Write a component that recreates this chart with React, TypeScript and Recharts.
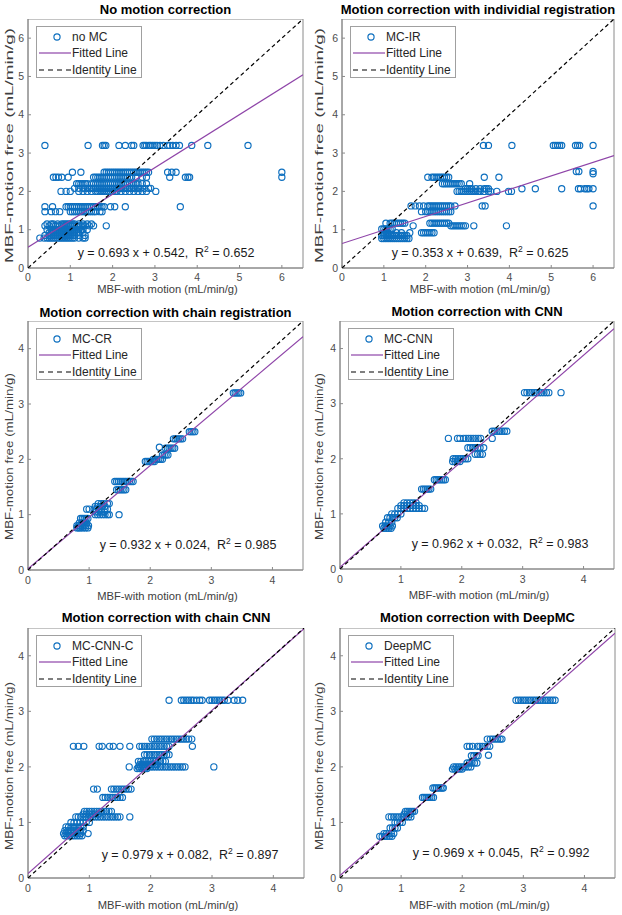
import React from 'react';
import { ScatterChart, Scatter, XAxis, YAxis, ReferenceArea, Label } from 'recharts';

const FONT = '"Liberation Sans", Arial, Helvetica, sans-serif';
const BLUE = '#0d6fbf';
const PURPLE = '#8e44a8';
const AXIS = '#8a8a8a';

// ---------- data ----------
const titles = [
  'No motion correction',
  'Motion correction with individial registration',
  'Motion correction with chain registration',
  'Motion correction with CNN',
  'Motion correction with chain CNN',
  'Motion correction with DeepMC',
];
const seriesNames = ['no MC', 'MC-IR', 'MC-CR', 'MC-CNN', 'MC-CNN-C', 'DeepMC'];
const slopes = [0.693, 0.353, 0.932, 0.962, 0.979, 0.969];
const intercepts = [0.542, 0.639, 0.024, 0.032, 0.082, 0.045];
const rSquared = [0.652, 0.625, 0.985, 0.983, 0.897, 0.992];
const axisMax = [6.5, 6.5, 4.5, 4.5, 4.5, 4.5];
const ticksWide = [0, 1, 2, 3, 4, 5, 6];
const ticksNarrow = [0, 1, 2, 3, 4];
const xAxisTitle = 'MBF-with motion (mL/min/g)';
const yAxisTitle = 'MBF-motion free (mL/min/g)';
const fittedName = 'Fitted Line';
const identityName = 'Identity Line';

type Rows = [number, number[]][];

// rows: [motion-free MBF level, list of with-motion MBF values]
const noMcRows: Rows = [
  [3.2, [0.4, 1.42, 1.76, 1.8, 1.84, 2.15, 2.3, 2.45, 2.5, 2.72, 2.76, 2.8, 2.86, 2.9, 2.95, 3.0, 3.05, 3.12, 3.2, 3.3, 3.35, 3.42, 3.5, 3.58, 3.87, 4.25, 5.2]],
  [2.5, [1.05, 1.25, 1.8, 1.85, 1.9, 1.95, 2.0, 2.05, 2.1, 2.15, 2.2, 2.25, 2.3, 2.35, 2.4, 2.45, 2.5, 2.55, 2.6, 2.65, 2.7, 2.75, 2.8, 2.85, 3.3, 3.4, 3.5, 6.0]],
  [2.37, [0.6, 0.66, 0.72, 0.8, 0.95, 1.55, 1.6, 1.65, 1.7, 1.75, 1.8, 1.85, 1.9, 1.95, 2.0, 2.05, 2.1, 2.15, 2.2, 2.25, 2.3, 2.35, 2.4, 2.45, 2.55, 2.7, 2.8, 3.35, 3.72, 3.78, 3.82, 6.0]],
  [2.2, [1.15, 1.2, 1.25, 1.3, 1.35, 1.4, 1.5, 1.55, 1.6, 1.65, 1.7, 1.75, 1.8, 1.85, 1.9, 1.95, 2.0, 2.05, 2.1, 2.15, 2.2, 2.25, 2.3, 2.35, 2.4, 2.45, 2.5, 2.55, 2.6, 2.7, 2.8]],
  [2.08, [1.1, 1.2, 1.3, 1.35, 1.4, 1.45, 1.5, 1.55, 1.6, 1.65, 1.7, 1.75, 1.8, 1.85, 1.9, 1.95, 2.0, 2.05, 2.1, 2.15, 2.2, 2.25, 2.3, 2.35, 2.4, 2.45, 2.5, 2.55, 2.6, 2.65, 2.75, 2.85, 2.9]],
  [2.0, [0.78, 0.9, 1.0, 1.2, 1.3, 1.4, 1.5, 1.6, 1.65, 1.7, 1.75, 1.8, 1.85, 1.9, 1.95, 2.0, 2.05, 2.1, 2.2, 2.3, 2.4, 2.5, 2.6, 2.7, 2.8, 3.02]],
  [1.6, [0.4, 0.58, 0.9, 0.95, 1.0, 1.05, 1.1, 1.15, 1.2, 1.25, 1.3, 1.35, 1.4, 1.45, 1.5, 1.55, 1.6, 1.65, 1.7, 1.75, 1.8, 1.95, 2.05, 2.3, 3.6]],
  [1.47, [0.4, 0.55, 0.65, 0.75, 1.0, 1.05, 1.1, 1.15, 1.2, 1.25, 1.3, 1.35, 1.4, 1.45, 1.5, 1.55, 1.6, 1.7, 1.75]],
  [1.15, [0.45, 0.55, 0.6, 0.7, 0.8, 0.85, 0.9, 0.95, 1.0, 1.05, 1.1, 1.2, 1.3, 1.4, 1.5]],
  [1.1, [0.4, 0.5, 0.6, 0.65, 0.7, 0.75, 0.8, 0.85, 0.9, 0.95, 1.0, 1.05, 1.1, 1.15, 1.2, 1.25, 1.3, 1.35, 1.45, 1.55, 1.85]],
  [1.0, [0.45, 0.55, 0.6, 0.65, 0.7, 0.75, 0.8, 0.85, 0.9, 0.95, 1.0, 1.05, 1.1, 1.15, 1.2, 1.25, 1.3, 1.4]],
  [0.92, [0.5, 0.55, 0.6, 0.65, 0.7, 0.75, 0.8, 0.85, 0.9, 0.95, 1.0, 1.05, 1.1, 1.15, 1.2, 1.3]],
  [0.85, [0.4, 0.5, 0.55, 0.6, 0.65, 0.7, 0.75, 0.8, 0.85, 0.9, 0.95, 1.0, 1.05, 1.1, 1.2, 1.35]],
  [0.78, [0.28, 0.38, 0.45, 0.5, 0.55, 0.6, 0.65, 0.7, 0.75, 0.8, 0.85, 0.9, 0.95, 1.0, 1.05, 1.1, 1.2, 1.3, 1.35]],
];

const mcIrRows: Rows = [
  [3.2, [3.38, 3.5, 4.06, 5.05, 5.1, 5.15, 5.2, 5.25, 5.58, 5.63, 5.68, 6.0]],
  [2.52, [5.6, 5.66, 6.0]],
  [2.46, [6.0]],
  [2.37, [2.05, 2.15, 2.2, 2.25, 2.3, 2.35, 2.4, 2.45, 2.5, 2.55, 3.4, 3.75]],
  [2.2, [2.4, 2.45, 2.5, 2.55, 2.6, 2.65, 2.7, 2.75, 2.8, 2.85, 3.05]],
  [2.07, [2.95, 3.0, 3.05, 3.1, 3.2, 3.3, 3.4, 3.45, 3.5, 4.3, 4.62, 5.25, 5.65, 5.7, 5.8, 5.85, 5.9, 6.0]],
  [2.0, [2.75, 2.8, 2.85, 2.9, 2.95, 3.0, 3.05, 3.1, 3.15, 3.2, 3.25, 3.3, 3.4, 3.5, 3.55, 3.7, 3.98, 4.05]],
  [1.62, [1.65, 1.75, 1.85, 1.95, 2.05, 2.1, 2.15, 2.2, 2.25, 2.3, 2.35, 2.4, 2.45, 2.5, 2.55, 2.6, 2.7, 3.35, 3.42, 6.0]],
  [1.47, [1.9, 2.0, 2.05, 2.1, 2.15, 2.2, 2.25, 2.3, 2.35, 2.4, 2.45, 2.5, 2.55, 2.6]],
  [1.17, [1.05, 1.15, 1.2, 1.25, 1.3, 1.35, 1.4, 1.45, 1.5, 2.1, 2.15, 2.2, 2.25, 2.3, 2.35, 2.4, 2.45, 2.5, 2.55]],
  [1.1, [1.7, 2.6, 2.65, 2.7, 2.75, 2.8, 2.85, 2.9, 2.95, 3.15, 3.93]],
  [1.02, [0.95, 1.0, 1.05, 1.1, 1.15, 1.2]],
  [0.92, [1.0, 1.05, 1.1, 1.3, 1.42, 1.62, 1.9, 1.95, 2.0, 2.05, 2.1, 2.15, 2.2]],
  [0.85, [0.95, 1.0, 1.05, 1.1, 1.15, 1.2, 1.25, 1.3, 1.35, 1.4, 1.45, 1.5, 1.55]],
  [0.77, [0.95, 1.0, 1.05, 1.1, 1.15, 1.2, 1.25, 1.3, 1.35, 1.4, 1.45, 1.5, 1.55, 1.6]],
];

const mcCrRows: Rows = [
  [3.2, [3.36, 3.39, 3.42, 3.45, 3.48]],
  [2.5, [2.64, 2.67, 2.7, 2.73]],
  [2.37, [2.38, 2.41, 2.44, 2.47, 2.5, 2.53]],
  [2.22, [2.15]],
  [2.2, [2.25, 2.28, 2.31, 2.34, 2.37, 2.4]],
  [2.08, [2.2, 2.23, 2.26, 2.29]],
  [2.0, [2.05, 2.08, 2.11, 2.14, 2.17, 2.2]],
  [1.96, [1.92, 1.95, 1.98, 2.01, 2.04, 2.07]],
  [1.6, [1.42, 1.45, 1.48, 1.51, 1.54, 1.57, 1.6, 1.63, 1.66, 1.69, 1.72]],
  [1.45, [1.45, 1.48, 1.51, 1.54, 1.57, 1.6]],
  [1.2, [1.15, 1.2, 1.24, 1.3, 1.33]],
  [1.15, [1.1, 1.14, 1.18, 1.22, 1.26]],
  [1.1, [0.96, 1.0, 1.08, 1.12, 1.16, 1.2, 1.26, 1.3]],
  [1.05, [1.1, 1.15, 1.2, 1.25]],
  [1.0, [1.1, 1.14, 1.18, 1.22, 1.26, 1.3, 1.33, 1.49]],
  [0.93, [0.86, 0.89, 0.92, 0.95, 0.98]],
  [0.85, [0.84, 0.88, 0.92, 0.96]],
  [0.8, [0.8, 0.83, 0.86, 0.89, 0.92, 0.95, 0.99]],
  [0.76, [0.8, 0.83, 0.86, 0.9, 0.94, 0.98]],
];

const mcCnnRows: Rows = [
  [3.2, [3.03, 3.07, 3.11, 3.15, 3.19, 3.23, 3.27, 3.31, 3.35, 3.39, 3.43, 3.63]],
  [2.5, [2.5, 2.54, 2.58, 2.62, 2.66, 2.7, 2.74]],
  [2.37, [1.78, 1.93, 1.97, 2.03, 2.07, 2.11, 2.15, 2.19, 2.23, 2.27, 2.31, 2.5]],
  [2.2, [2.1, 2.14, 2.18, 2.22, 2.26, 2.3, 2.36]],
  [2.08, [2.22, 2.26, 2.3, 2.34]],
  [2.0, [1.86, 1.9, 1.94, 1.98, 2.02, 2.06, 2.1]],
  [1.95, [1.85, 1.89, 1.93, 1.97]],
  [1.62, [1.55, 1.58, 1.61, 1.64, 1.67, 1.7, 1.73]],
  [1.45, [1.34, 1.37, 1.4, 1.43, 1.46, 1.49]],
  [1.2, [1.05, 1.1, 1.15, 1.2, 1.25]],
  [1.15, [1.0, 1.05, 1.1, 1.15, 1.2, 1.25, 1.3]],
  [1.1, [0.95, 1.0, 1.05, 1.1, 1.15, 1.2, 1.25, 1.3, 1.35, 1.39]],
  [1.0, [0.85, 0.9, 0.95, 1.0]],
  [0.93, [0.78, 0.82, 0.86, 0.9, 0.94]],
  [0.85, [0.75, 0.8, 0.85]],
  [0.78, [0.7, 0.74, 0.78, 0.82, 0.86]],
  [0.74, [0.72, 0.76, 0.8, 0.84]],
];

const mcCnnCRows: Rows = [
  [3.2, [2.3, 2.5, 2.54, 2.58, 2.62, 2.66, 2.7, 2.75, 2.8, 2.84, 2.96, 3.0, 3.04, 3.08, 3.12, 3.16, 3.2, 3.26, 3.36, 3.42, 3.5]],
  [2.5, [2.02, 2.06, 2.1, 2.14, 2.18, 2.22, 2.26, 2.3, 2.34, 2.38, 2.42, 2.46, 2.5, 2.54, 2.58, 2.62, 2.67]],
  [2.37, [0.74, 0.82, 0.91, 1.16, 1.21, 1.33, 1.39, 1.5, 1.66, 1.82, 1.86, 1.9, 1.94, 1.98, 2.02, 2.06, 2.1, 2.14, 2.18, 2.22, 2.26, 2.3, 2.68]],
  [2.22, [1.9, 1.94, 1.98, 2.02, 2.06, 2.1, 2.14, 2.18, 2.22, 2.26, 2.3]],
  [2.1, [1.8, 1.84, 1.88, 1.92, 1.96, 2.0, 2.04, 2.08, 2.12, 2.16, 2.2, 2.24]],
  [2.04, [1.82, 1.86, 1.9, 1.94, 1.98, 2.02, 2.06, 2.1]],
  [2.0, [1.65, 1.8, 1.84, 1.88, 1.92, 1.96, 2.0, 2.04, 2.08, 2.12, 2.16, 2.2, 2.24, 2.28, 2.32, 2.36, 2.4, 2.44, 2.48, 2.52, 2.56, 3.03]],
  [1.97, [1.78, 1.82, 1.86, 1.9, 1.94]],
  [1.6, [1.07, 1.13, 1.36, 1.4, 1.44, 1.48, 1.52, 1.56, 1.6, 1.64, 1.68]],
  [1.45, [1.22, 1.26, 1.3, 1.34, 1.38, 1.42, 1.46, 1.5, 1.54]],
  [1.2, [0.92, 0.96, 1.0, 1.04, 1.08, 1.12, 1.16, 1.2, 1.24, 1.28, 1.32, 1.36]],
  [1.15, [0.9, 0.95, 1.0, 1.05, 1.1, 1.15]],
  [1.1, [0.78, 0.82, 0.86, 0.9, 0.94, 0.98, 1.02, 1.06, 1.1, 1.14, 1.18, 1.22, 1.26, 1.3, 1.34, 1.38, 1.42, 1.46, 1.5, 1.66]],
  [1.0, [0.7, 0.75, 0.8, 0.85, 0.9, 0.95, 1.0]],
  [0.92, [0.62, 0.66, 0.7, 0.74, 0.78, 0.82, 0.86, 0.9]],
  [0.85, [0.6, 0.65, 0.7, 0.75, 0.8, 0.85, 0.9]],
  [0.8, [0.58, 0.62, 0.66, 0.7, 0.74, 0.78, 0.82, 0.86, 0.98]],
  [0.76, [0.6, 0.64, 0.68, 0.72, 0.76, 0.8, 0.84, 0.88]],
];

const deepMcRows: Rows = [
  [3.2, [2.88, 2.92, 2.96, 3.0, 3.04, 3.08, 3.12, 3.16, 3.2, 3.24, 3.28, 3.32, 3.36, 3.4, 3.44, 3.48, 3.52]],
  [2.5, [2.41, 2.46, 2.5, 2.54, 2.58, 2.62, 2.65]],
  [2.37, [2.08, 2.12, 2.17, 2.25, 2.29, 2.33, 2.37, 2.41, 2.45]],
  [2.21, [2.43]],
  [2.2, [2.15, 2.19, 2.23, 2.26]],
  [2.07, [2.08, 2.12, 2.16, 2.2, 2.24]],
  [2.0, [1.86, 1.9, 1.94, 1.98, 2.02, 2.06, 2.1, 2.14]],
  [1.96, [1.84, 1.88, 1.92, 1.96, 2.0]],
  [1.62, [1.52, 1.55, 1.58, 1.61, 1.64, 1.67, 1.69]],
  [1.45, [1.35, 1.38, 1.41, 1.44, 1.47, 1.5, 1.53]],
  [1.2, [1.07, 1.1, 1.13, 1.16, 1.19, 1.22]],
  [1.15, [1.05, 1.1, 1.15]],
  [1.1, [0.8, 0.84, 0.88, 0.92, 0.96, 1.0, 1.04, 1.08, 1.12, 1.16]],
  [1.0, [0.9, 0.94, 0.98, 1.02]],
  [0.9, [0.82, 0.86, 0.9, 0.94]],
  [0.8, [0.72, 0.76, 0.8, 0.84, 0.88]],
  [0.75, [0.65, 0.69, 0.73, 0.77, 0.81, 0.85]],
];

const panelRows: Rows[] = [noMcRows, mcIrRows, mcCrRows, mcCnnRows, mcCnnCRows, deepMcRows];

// ---------- layout (page pixels) ----------
type Layout = {
  pl: number; pt: number; pr: number; pb: number;
  titleY: number; eqX: number; eqY: number;
  yLabX: number; yLabY: number; yLabLen: number; xLabY: number; tickGap: number;
};
const layouts: Layout[] = [
  { pl: 28, pt: 19, pr: 303, pb: 268, titleY: 10, eqX: 166, eqY: 253, yLabX: 9, yLabY: 145.5, yLabLen: 235, xLabY: 289, tickGap: 9 },
  { pl: 342, pt: 19, pr: 614, pb: 268, titleY: 10, eqX: 480, eqY: 253, yLabX: 319, yLabY: 145.5, yLabLen: 235, xLabY: 289, tickGap: 9 },
  { pl: 28, pt: 321, pr: 303, pb: 570, titleY: 313, eqX: 188, eqY: 545, yLabX: 8.5, yLabY: 456.5, yLabLen: 167, xLabY: 596, tickGap: 10 },
  { pl: 340, pt: 321, pr: 614, pb: 569, titleY: 312, eqX: 500, eqY: 544, yLabX: 319, yLabY: 456.5, yLabLen: 167, xLabY: 595, tickGap: 10 },
  { pl: 28, pt: 628, pr: 304, pb: 878, titleY: 618, eqX: 190, eqY: 855, yLabX: 8.5, yLabY: 766, yLabLen: 168, xLabY: 905, tickGap: 10 },
  { pl: 340, pt: 628, pr: 615, pb: 878, titleY: 618, eqX: 501, eqY: 853, yLabX: 319, yLabY: 766, yLabLen: 168, xLabY: 905, tickGap: 10 },
];

const YW = 28;
const XH = 40;

const Ring = (p: any) => (
  <circle cx={p.cx} cy={p.cy} r={3.1} fill="none" stroke={BLUE} strokeWidth={1.15} />
);
const Nothing = () => <g />;

function LegendBox({ name, left, top }: { name: string; left: number; top: number }) {
  const rowY = [11, 27, 44];
  const labels = [name, fittedName, identityName];
  return (
    <div
      style={{
        position: 'absolute', left, top, width: 106, height: 52, boxSizing: 'border-box',
        border: '1px solid #a0a0a0', background: '#fff', fontFamily: FONT, fontSize: 12, color: '#262626',
      }}
    >
      <svg width={104} height={50} style={{ position: 'absolute', left: 0, top: 0 }}>
        <circle cx={20} cy={rowY[0] - 1} r={3.1} fill="none" stroke={BLUE} strokeWidth={1.15} />
        <line x1={2} x2={34} y1={rowY[1] - 1} y2={rowY[1] - 1} stroke={PURPLE} strokeWidth={1.2} />
        <line x1={2} x2={34} y1={rowY[2] - 1} y2={rowY[2] - 1} stroke="#000" strokeWidth={1.2} strokeDasharray="5 4" />
      </svg>
      {labels.map((t, i) => (
        <span
          key={i}
          style={{ position: 'absolute', left: 35, top: rowY[i] - 1, transform: 'translateY(-50%)', whiteSpace: 'nowrap', lineHeight: '14px' }}
        >
          {t}
        </span>
      ))}
    </div>
  );
}

function Panel({ i }: { i: number }) {
  const L = layouts[i];
  const max = axisMax[i];
  const ticks = max > 5 ? ticksWide : ticksNarrow;
  const points = panelRows[i].flatMap(([y, xs]) => xs.map((x) => ({ x, y })));
  const fit = [
    { x: 0, y: intercepts[i] },
    { x: max, y: slopes[i] * max + intercepts[i] },
  ];
  const identity = [
    { x: 0, y: 0 },
    { x: max, y: max },
  ];
  const chartLeft = L.pl - YW;
  const width = YW + (L.pr - L.pl) + 4;
  const height = L.pb - L.pt + XH;
  const tickStyle = { fontSize: 10.5, fill: '#4d4d4d', fontFamily: FONT };

  const yLab = () => {
    const cx = L.yLabX - chartLeft;
    const cy = L.yLabY - L.pt;
    return (
      <text
        x={cx}
        y={cy}
        transform={`rotate(-90 ${cx} ${cy})`}
        textAnchor="middle"
        dominantBaseline="central"
        textLength={L.yLabLen}
        lengthAdjust="spacingAndGlyphs"
        fontSize={11}
        fontFamily={FONT}
        fill="#404040"
      >
        {yAxisTitle}
      </text>
    );
  };
  const xLab = () => (
    <text
      x={(L.pl + L.pr) / 2 + 2 - chartLeft}
      y={L.xLabY - L.pt}
      textAnchor="middle"
      dominantBaseline="central"
      fontSize={11.2}
      fontFamily={FONT}
      fill="#404040"
    >
      {xAxisTitle}
    </text>
  );

  const eq = (
    <div
      style={{
        position: 'absolute', left: L.eqX, top: L.eqY, transform: 'translate(-50%, -50%)', whiteSpace: 'pre',
        fontFamily: FONT, fontSize: 12.5, color: '#1a1a1a', lineHeight: '16px',
      }}
    >
      {`y = ${slopes[i].toFixed(3)} x + ${intercepts[i].toFixed(3)},  R`}
      <span style={{ fontSize: 8.5, verticalAlign: 'super', lineHeight: 0 }}>2</span>
      {` = ${rSquared[i].toFixed(3)}`}
    </div>
  );

  return (
    <>
      <div
        style={{
          position: 'absolute', left: (L.pl + L.pr) / 2, top: L.titleY, transform: 'translate(-50%, -50%)',
          whiteSpace: 'nowrap', fontFamily: FONT, fontSize: 13, fontWeight: 'bold', color: '#000', lineHeight: '16px',
        }}
      >
        {titles[i]}
      </div>
      <div style={{ position: 'absolute', left: chartLeft, top: L.pt }}>
        <ScatterChart width={width} height={height} margin={{ top: 0, right: 4, left: 0, bottom: 0 }}>
          <XAxis
            type="number"
            dataKey="x"
            domain={[0, max]}
            ticks={ticks}
            interval={0}
            allowDataOverflow
            stroke={AXIS}
            tickSize={-3}
            tickMargin={L.tickGap}
            tick={tickStyle}
            height={XH}
          >
            <Label content={xLab} />
          </XAxis>
          <YAxis
            type="number"
            dataKey="y"
            domain={[0, max]}
            ticks={ticks}
            interval={0}
            allowDataOverflow
            stroke={AXIS}
            tickSize={-3}
            tickMargin={7}
            tick={tickStyle}
            width={YW}
          >
            <Label content={yLab} />
          </YAxis>
          <ReferenceArea x1={0} x2={max} y1={0} y2={max} fill="none" stroke={AXIS} strokeWidth={1} ifOverflow="visible" />
          <Scatter data={points} shape={Ring} isAnimationActive={false} />
          <Scatter data={fit} shape={Nothing} line={{ stroke: PURPLE, strokeWidth: 1.2 }} isAnimationActive={false} />
          <Scatter
            data={identity}
            shape={Nothing}
            line={{ stroke: '#000', strokeWidth: 1.2, strokeDasharray: '4 3' }}
            isAnimationActive={false}
          />
        </ScatterChart>
      </div>
      <LegendBox name={seriesNames[i]} left={L.pl + 8} top={L.pt + 7} />
      {eq}
    </>
  );
}

export default function App() {
  return (
    <div style={{ position: 'absolute', left: 0, top: 0, width: 622, height: 915, background: '#fff', overflow: 'hidden' }}>
      {layouts.map((_, i) => (
        <Panel key={i} i={i} />
      ))}
    </div>
  );
}
